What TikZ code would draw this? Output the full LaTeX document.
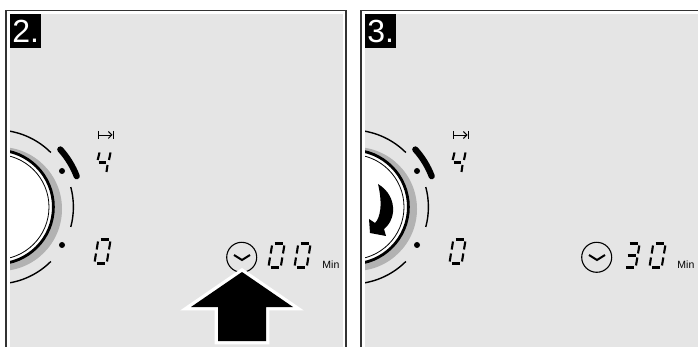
\documentclass[tikz,border=0pt]{standalone}
\usepackage{fontspec}
\setmainfont{Liberation Sans}
\usetikzlibrary{arrows.meta, positioning}
\definecolor{panelgray}{HTML}{E5E5E5}
\definecolor{shadegray}{HTML}{B2B2B2}
\tikzset{
  seg/.style={line width=2.1pt},
  frameline/.style={draw=black!80,line width=1.2pt},
  title/.style={fill=black,text=white,inner sep=0pt,minimum width=31pt,minimum height=34pt,anchor=north west,font=\fontsize{32}{32}\selectfont},
  minlabel/.style={inner sep=0pt,font=\fontsize{10.5}{11}\selectfont},
  clockface/.style={circle,draw,line width=1.1pt,inner sep=0pt,minimum size=30pt},
  dgzero/.pic={
    \draw[seg] (0.7,-2.5) -- (2,-10.5);
    \draw[seg] (2.7,-14.5) -- (4,-22.5);
    \draw[seg] (13,-2.5) -- (14.3,-10.5);
    \draw[seg] (15,-14.5) -- (16.3,-22.5);
    \draw[seg] (6.5,-24.5) -- (14.5,-24.5);
    \draw[seg] (2.8,-0.5) -- (10.8,-0.5);
  },
  dgthree/.pic={
    \draw[seg] (13,-2.5) -- (14.3,-10.5);
    \draw[seg] (15,-14.5) -- (16.3,-22.5);
    \draw[seg] (6.5,-24.5) -- (14.5,-24.5);
    \draw[seg] (4.5,-12.5) -- (12.5,-12.5);
    \draw[seg] (2.8,-0.5) -- (10.8,-0.5);
  },
  dgfour/.pic={
    \draw[seg] (3.7,-15) -- (5.5,-22.5);
    \draw[seg] (12.5,-3) -- (13.5,-10);
    \draw[seg] (15,-15) -- (16.5,-22.5);
    \draw[seg] (4.5,-12.5) -- (11.5,-12.5);
  },
  panel/.pic={
    \fill[panelgray] (10,14) rectangle (343,347);
    \begin{scope}
      \clip (10,14) rectangle (343,347);
      \fill[shadegray] (0,209) circle (62);
      \draw[fill=white,line width=2.8pt] (-3.6,207) circle (57);
      \draw[line width=0.8pt] (-3.6,207) circle (52.6);
      \draw[line width=1.4pt] (-3.6,207) ++(-85:77) arc[start angle=-85,end angle=-45,radius=77];
      \draw[line width=1.4pt] (-3.6,207) ++(-15:77) arc[start angle=-15,end angle=15,radius=77];
      \draw[line width=1.4pt] (-3.6,207) ++(45:77) arc[start angle=45,end angle=85,radius=77];
    \end{scope}
    \draw[line width=6.2pt,line cap=round] (-3.6,207) ++(-42:86) arc[start angle=-42,end angle=-21,radius=86];
    \fill (62,171) circle (3);
    \fill (62,245) circle (3);
    % end stop symbol
    \coordinate (S) at (99,135);
    \coordinate (E) at (112.5,135);
    \draw[line width=0.9pt,-{Straight Barb[length=3.5pt,width=7pt]}] (S) -- (E);
    \draw[line width=0.9pt] (98.5,131) -- (98.5,139);
    \draw[line width=0.9pt] (113,131) -- (113,139);
    \pic at (94,175) {dgfour};
    \pic at (94,264) {dgzero};
    % clock
    \node[clockface] (C) at (241.7,257.3) {};
    \draw[line width=2pt] (234,255) -- (242,260) -- (250,255);
    \node[minlabel,right=65pt of C.east,anchor=west,yshift=-7pt] (M) {Min};
  },
}
\begin{document}
\begin{tikzpicture}[x=1pt,y=-1pt]
\useasboundingbox (0,0) rectangle (698,347);
\draw[frameline] (6,347) -- (6,10.6) -- (346,10.6) -- (346,347);
\draw[frameline] (361,347) -- (361,10.6) -- (698,10.6);

\pic (A) at (0,0) {panel};
\pic (B) at (355,0) {panel};

\node[title] (TA) at (10,14) {2.};
\node[title] (TB) at (365,14) {3.};

\pic at (268,268) {dgzero};
\pic at (294,268) {dgzero};
\pic at (623,268) {dgthree};
\pic at (649,268) {dgzero};

% push arrow
\fill[black,preaction={draw=white,line width=6.6pt,miter limit=10}] (242,272) -- (293,307) -- (266,307) -- (266,341) -- (218,341) -- (218,307) -- (191,307) -- cycle;

% turn arrow
\fill (378,184) .. controls (388,190) and (394,200) .. (393,212) .. controls (392,220) and (389,225) .. (384,229) -- (386,236) -- (370,233) -- (369,219) -- (375,223) .. controls (380,218) and (383,205) .. (378,184);
\end{tikzpicture}
\end{document}
